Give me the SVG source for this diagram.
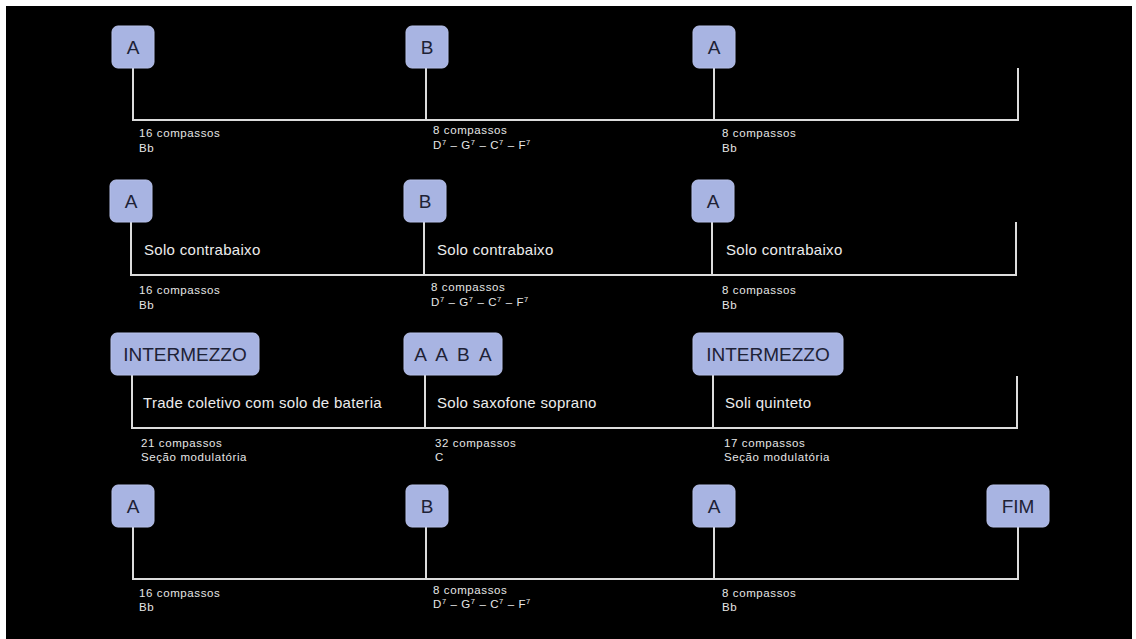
<svg xmlns="http://www.w3.org/2000/svg" width="1136" height="639" viewBox="0 0 1136 639">
<style>
.bg{fill:#000}
.box{fill:#a8b4e2;stroke:#b7c1ea;stroke-width:1}
.bt{font-family:"Liberation Sans",Arial,sans-serif;font-size:19px;fill:#1e2236;text-anchor:middle}
.ws{word-spacing:5px}
.ln{stroke:#dcdcdc;stroke-width:2;fill:none}
.mid{font-family:"Liberation Sans",Arial,sans-serif;font-size:15px;fill:#ececec;letter-spacing:0.3px}
.sm{font-family:"Liberation Sans",Arial,sans-serif;font-size:11.5px;fill:#e6e6e6;letter-spacing:0.6px}
.sup{font-size:7.5px}
</style>
<rect x="0" y="0" width="1136" height="639" fill="#fff"/>
<rect class="bg" x="6" y="6" width="1126" height="633"/>

<g id="connectors">
<path class="ln" d="M133 68V120H1018V68"/>
<path class="ln" d="M426 68V120"/>
<path class="ln" d="M714 68V120"/>
<path class="ln" d="M131 222V275H1016V222"/>
<path class="ln" d="M424 222V275"/>
<path class="ln" d="M712 222V275"/>
<path class="ln" d="M132 375V428H1017V376"/>
<path class="ln" d="M425 375V428"/>
<path class="ln" d="M713 375V428"/>
<path class="ln" d="M133 527V579H1018V527"/>
<path class="ln" d="M426 527V579"/>
<path class="ln" d="M714 527V579"/>
</g>

<g id="r1-a1"><rect class="box" x="112" y="26" width="42" height="42" rx="6"/><text class="bt" x="133" y="54">A</text></g>
<g id="r1-b"><rect class="box" x="406" y="26" width="42" height="42" rx="6"/><text class="bt" x="427" y="54">B</text></g>
<g id="r1-a2"><rect class="box" x="693" y="26" width="42" height="42" rx="6"/><text class="bt" x="714" y="54">A</text></g>

<g id="r2-a1"><rect class="box" x="110" y="180" width="42" height="42" rx="6"/><text class="bt" x="131" y="208">A</text></g>
<g id="r2-b"><rect class="box" x="404" y="180" width="42" height="42" rx="6"/><text class="bt" x="425" y="208">B</text></g>
<g id="r2-a2"><rect class="box" x="692" y="180" width="42" height="42" rx="6"/><text class="bt" x="713" y="208">A</text></g>

<g id="r3-int1"><rect class="box" x="111" y="333" width="148" height="42" rx="6"/><text class="bt" x="185" y="361">INTERMEZZO</text></g>
<g id="r3-aaba"><rect class="box" x="404" y="333" width="98" height="42" rx="6"/><text class="bt ws" x="453" y="361">A A B A</text></g>
<g id="r3-int2"><rect class="box" x="693" y="333" width="150" height="42" rx="6"/><text class="bt" x="768" y="361">INTERMEZZO</text></g>

<g id="r4-a1"><rect class="box" x="112" y="485" width="42" height="42" rx="6"/><text class="bt" x="133" y="513">A</text></g>
<g id="r4-b"><rect class="box" x="406" y="485" width="42" height="42" rx="6"/><text class="bt" x="427" y="513">B</text></g>
<g id="r4-a2"><rect class="box" x="693" y="485" width="42" height="42" rx="6"/><text class="bt" x="714" y="513">A</text></g>
<g id="r4-fim"><rect class="box" x="987" y="485" width="62" height="42" rx="6"/><text class="bt" x="1018" y="513">FIM</text></g>

<g id="labels">
<text class="sm" x="139" y="137">16 compassos</text><text class="sm" x="139" y="152">Bb</text>
<text class="sm" x="433" y="134">8 compassos</text><text class="sm" x="433" y="149">D<tspan class="sup" dy="-4">7</tspan><tspan dy="4"> – G</tspan><tspan class="sup" dy="-4">7</tspan><tspan dy="4"> – C</tspan><tspan class="sup" dy="-4">7</tspan><tspan dy="4"> – F</tspan><tspan class="sup" dy="-4">7</tspan></text>
<text class="sm" x="722" y="137">8 compassos</text><text class="sm" x="722" y="152">Bb</text>

<text class="mid" x="144" y="255">Solo contrabaixo</text>
<text class="mid" x="437" y="255">Solo contrabaixo</text>
<text class="mid" x="726" y="255">Solo contrabaixo</text>
<text class="sm" x="139" y="294">16 compassos</text><text class="sm" x="139" y="309">Bb</text>
<text class="sm" x="431" y="291">8 compassos</text><text class="sm" x="431" y="306">D<tspan class="sup" dy="-4">7</tspan><tspan dy="4"> – G</tspan><tspan class="sup" dy="-4">7</tspan><tspan dy="4"> – C</tspan><tspan class="sup" dy="-4">7</tspan><tspan dy="4"> – F</tspan><tspan class="sup" dy="-4">7</tspan></text>
<text class="sm" x="722" y="294">8 compassos</text><text class="sm" x="722" y="309">Bb</text>

<text class="mid" x="143" y="408">Trade coletivo com solo de bateria</text>
<text class="mid" x="437" y="408">Solo saxofone soprano</text>
<text class="mid" x="725" y="408">Soli quinteto</text>
<text class="sm" x="141" y="447">21 compassos</text><text class="sm" x="141" y="461">Seção modulatória</text>
<text class="sm" x="435" y="447">32 compassos</text><text class="sm" x="435" y="461">C</text>
<text class="sm" x="724" y="447">17 compassos</text><text class="sm" x="724" y="461">Seção modulatória</text>

<text class="sm" x="139" y="597">16 compassos</text><text class="sm" x="139" y="611">Bb</text>
<text class="sm" x="433" y="594">8 compassos</text><text class="sm" x="433" y="608">D<tspan class="sup" dy="-4">7</tspan><tspan dy="4"> – G</tspan><tspan class="sup" dy="-4">7</tspan><tspan dy="4"> – C</tspan><tspan class="sup" dy="-4">7</tspan><tspan dy="4"> – F</tspan><tspan class="sup" dy="-4">7</tspan></text>
<text class="sm" x="722" y="597">8 compassos</text><text class="sm" x="722" y="611">Bb</text>
</g>
</svg>
